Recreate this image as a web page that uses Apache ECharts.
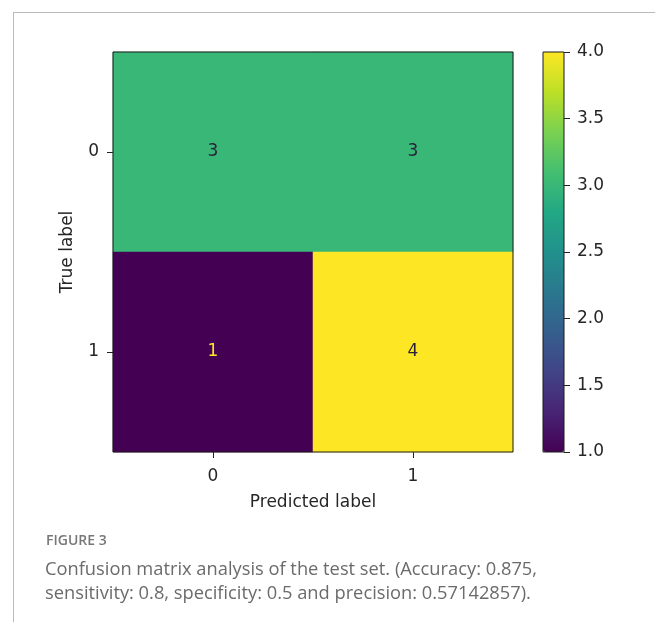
<!DOCTYPE html>
<html>
<head>
<meta charset="utf-8">
<script src="https://cdn.jsdelivr.net/npm/echarts@6/dist/echarts.min.js"></script>
<style>
html,body{margin:0;padding:0;background:#fff;}
#chart{width:655px;height:622px;}
</style>
</head>
<body>
<div id="chart"></div>
<script>
// ---- data ----
const predictedLabels = ['0', '1'];
const trueLabels = ['0', '1'];
const matrixRow0 = [3, 3];
const matrixRow1 = [1, 4];
const colorbarTicks = [1.0, 1.5, 2.0, 2.5, 3.0, 3.5, 4.0];
const viridis = ['#440154', '#482475', '#414487', '#355f8d', '#2a788e', '#21918c', '#22a884', '#44bf70', '#7ad151', '#bddf26', '#fde725'];

const rows = [matrixRow0, matrixRow1];
let vmin = Infinity, vmax = -Infinity;
rows.forEach(r => r.forEach(v => { vmin = Math.min(vmin, v); vmax = Math.max(vmax, v); }));
const thresh = (vmin + vmax) / 2;
const heatData = [];
rows.forEach((r, yi) => r.forEach((v, xi) => {
  heatData.push({
    value: [xi, yi, v],
    label: { color: v < thresh ? viridis[viridis.length - 1] : '#2a1f3a' }
  });
}));

const font = 'DejaVu Sans';
const tickColor = '#262626';

const chart = echarts.init(document.getElementById('chart'), null, { renderer: 'canvas' });
chart.setOption({
  animation: false,
  backgroundColor: '#fff',
  title: [
    { text: 'FIGURE 3', left: 46, top: 534, padding: 0,
      textStyle: { fontFamily: 'Open Sans', fontSize: 14, fontWeight: 600, color: '#777' } },
    { text: 'Confusion matrix analysis of the test set. (Accuracy: 0.875,\nsensitivity: 0.8, specificity: 0.5 and precision: 0.57142857).',
      left: 45, top: 558, padding: 0,
      textStyle: { fontFamily: 'Open Sans', fontSize: 18.3, fontWeight: 400, color: '#6b6b6b', lineHeight: 24 } }
  ],
  graphic: [
    { type: 'line', shape: { x1: 13, y1: 12.5, x2: 655, y2: 12.5 }, style: { stroke: '#bbb', lineWidth: 1 } },
    { type: 'line', shape: { x1: 13.5, y1: 12, x2: 13.5, y2: 622 }, style: { stroke: '#bbb', lineWidth: 1 } }
  ],
  grid: [
    { left: 113, top: 52, width: 400, height: 400, show: true, z: 10,
      backgroundColor: 'transparent', borderColor: '#1a1a1a', borderWidth: 1 },
    { left: 543, top: 52, width: 21, height: 400, show: true, z: 10,
      backgroundColor: 'transparent', borderColor: '#1a1a1a', borderWidth: 1 }
  ],
  xAxis: [
    { type: 'category', gridIndex: 0, data: predictedLabels, position: 'bottom',
      name: 'Predicted label', nameLocation: 'middle', nameGap: 42,
      nameTextStyle: { fontFamily: font, fontSize: 17, color: tickColor },
      axisLine: { show: false, onZero: false },
      axisTick: { show: true, alignWithLabel: true, length: 6, lineStyle: { color: '#222' } },
      axisLabel: { fontFamily: font, fontSize: 17, color: tickColor, margin: 16 },
      splitLine: { show: false }, splitArea: { show: false } },
    { type: 'value', gridIndex: 1, show: false, min: 0, max: 1 }
  ],
  yAxis: [
    { type: 'category', gridIndex: 0, data: trueLabels, inverse: true,
      name: 'True label', nameLocation: 'middle', nameGap: 37, nameRotate: 90,
      nameTextStyle: { fontFamily: font, fontSize: 17, color: tickColor },
      axisLine: { show: false, onZero: false },
      axisTick: { show: true, alignWithLabel: true, length: 6, lineStyle: { color: '#222' } },
      axisLabel: { fontFamily: font, fontSize: 17, color: tickColor, margin: 14 },
      splitLine: { show: false }, splitArea: { show: false } },
    { type: 'value', gridIndex: 1, position: 'right', min: colorbarTicks[0],
      max: colorbarTicks[colorbarTicks.length - 1], interval: 0.5, z: 11,
      axisLine: { show: false, onZero: false },
      axisTick: { show: true, inside: false, length: 6, lineStyle: { color: '#222' } },
      axisLabel: { fontFamily: font, fontSize: 17, color: tickColor, margin: 13,
        formatter: v => v.toFixed(1) },
      splitLine: { show: false } }
  ],
  visualMap: {
    type: 'continuous', min: vmin, max: vmax, seriesIndex: 0,
    left: 543, top: 52, itemWidth: 21, itemHeight: 400, padding: 0,
    calculable: false, hoverLink: false, showLabel: false, text: null,
    inRange: { color: viridis },
    textStyle: { color: 'transparent' }
  },
  series: [{
    type: 'heatmap', xAxisIndex: 0, yAxisIndex: 0,
    data: heatData,
    label: { show: true, fontFamily: font, fontSize: 17, formatter: p => String(p.value[2]) },
    itemStyle: { borderWidth: 0 },
    emphasis: { disabled: true }
  }]
});
</script>
</body>
</html>
